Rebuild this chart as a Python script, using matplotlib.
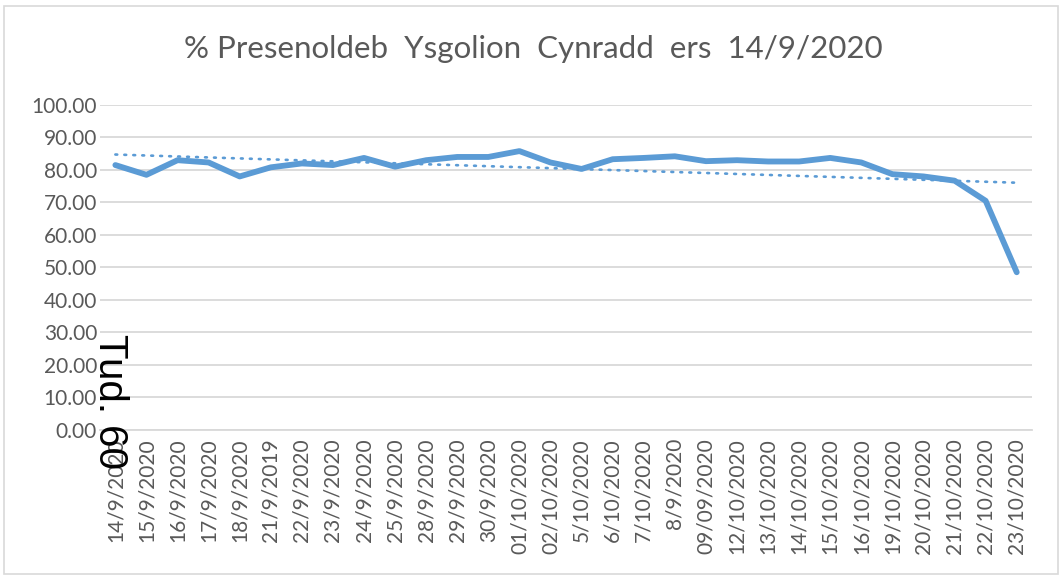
import numpy as np
import matplotlib
matplotlib.use("Agg")
import matplotlib.pyplot as plt
from matplotlib.patches import Rectangle

# dates as they appear on the axis (typos kept from the original)
dates = ["14/9/2020", "15/9/2020", "16/9/2020", "17/9/2020", "18/9/2020",
         "21/9/2019", "22/9/2020", "23/9/2020", "24/9/2020", "25/9/2020",
         "28/9/2020", "29/9/2020", "30/9/2020", "01/10/2020", "02/10/2020",
         "5/10/2020", "6/10/2020", "7/10/2020", "8/9/2020", "09/09/2020",
         "12/10/2020", "13/10/2020", "14/10/2020", "15/10/2020", "16/10/2020",
         "19/10/2020", "20/10/2020", "21/10/2020", "22/10/2020", "23/10/2020"]

attendance = [81.5, 78.5, 83.0, 82.3, 78.0,
              80.8, 82.0, 81.5, 83.7, 81.0,
              83.0, 84.0, 84.0, 85.8, 82.3,
              80.3, 83.3, 83.7, 84.2, 82.7,
              83.0, 82.6, 82.6, 83.7, 82.3,
              78.7, 78.0, 76.7, 70.5, 48.5]

yticks = [0, 10, 20, 30, 40, 50, 60, 70, 80, 90, 100]

blue = "#5B9BD5"
grey_text = "#595959"
grid_col = "#D9D9D9"

fig = plt.figure(figsize=(10.62, 5.8), dpi=100)
ax = fig.add_axes([0.094, 0.259, 0.878, 0.560])

x = np.arange(len(dates))
ax.plot(x, attendance, color=blue, lw=4.2, solid_joinstyle="round",
        solid_capstyle="round", zorder=3)

# linear trendline like Excel's
coef = np.polyfit(x, attendance, 1)
ax.plot(x, np.polyval(coef, x), color=blue, lw=1.9, linestyle=(0, (0.7, 2.7)),
        dash_capstyle="round", zorder=2)

ax.set_xlim(-0.5, len(dates) - 0.5)
ax.set_ylim(0, 100)
ax.set_yticks(yticks)
ax.set_yticklabels([f"{v:.2f}" for v in yticks])
ax.set_xticks(x)
ax.set_xticklabels(dates, rotation=90)
ax.yaxis.grid(True, color=grid_col, lw=1.3)
ax.set_axisbelow(True)
for side in ["top", "right", "left"]:
    ax.spines[side].set_visible(False)
ax.spines["bottom"].set_color(grid_col)
ax.spines["bottom"].set_linewidth(1.3)
ax.tick_params(axis="both", length=0, colors=grey_text)
ax.tick_params(axis="y", labelsize=15, pad=2)
ax.tick_params(axis="x", labelsize=15, pad=6)
for lab in ax.get_xticklabels() + ax.get_yticklabels():
    lab.set_family(["Lato", "DejaVu Sans"])

fig.text(0.502, 0.915, "% Presenoldeb  Ysgolion  Cynradd  ers  14/9/2020",
         ha="center", va="center", fontsize=22.5, color=grey_text,
         family=["Lato", "DejaVu Sans"])

# page number stamped over the chart
fig.text(0.104, 0.425, "Tud. 60", rotation=270, ha="center", va="top",
         fontsize=29, color="black", family=["Liberation Sans", "DejaVu Sans"])

# chart frame
fig.patches.append(Rectangle((0.004, 0.01), 0.992, 0.98, transform=fig.transFigure,
                             fill=False, edgecolor=grid_col, lw=1.2))

fig.savefig("out.png", dpi=100)
